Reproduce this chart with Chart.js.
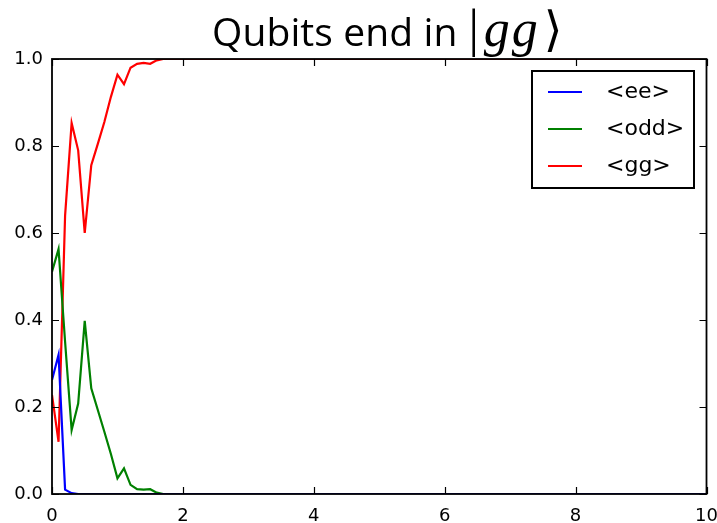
<!DOCTYPE html>
<html>
<head>
<meta charset="utf-8">
<script src="https://cdn.jsdelivr.net/npm/chart.js@4/dist/chart.umd.min.js"></script>
<style>
  html, body { margin: 0; padding: 0; background: #fff; }
  #wrap { width: 717px; height: 523px; }
</style>
</head>
<body>
<div id="wrap"><canvas id="c" width="717" height="523"></canvas></div>
<script>
// Time axis samples (after 1.8 every population stays put until t = 10)
const times = [0, 0.1, 0.2, 0.3, 0.4, 0.5, 0.6, 0.7, 0.8, 0.9, 1.0, 1.1, 1.2, 1.3, 1.4, 1.5, 1.6, 1.7, 1.8, 10];

// Populations of the two-qubit states
const eeValues  = [0.262, 0.320, 0.010, 0.002, 0, 0, 0, 0, 0, 0, 0, 0, 0, 0, 0, 0, 0, 0, 0, 0];
const oddValues = [0.511, 0.563, 0.350, 0.147, 0.208, 0.398, 0.243, 0.193, 0.143, 0.092, 0.036, 0.059, 0.021, 0.011, 0.010, 0.011, 0.003, 0, 0, 0];
const ggValues  = [0.228, 0.120, 0.640, 0.853, 0.790, 0.600, 0.756, 0.805, 0.855, 0.913, 0.964, 0.942, 0.980, 0.989, 0.991, 0.989, 0.997, 1.0, 1.0, 1.0];

const seriesLabels = ['<ee>', '<odd>', '<gg>'];
const seriesColors = ['#0000ff', '#008000', '#ff0000'];

// Axis ticks
const xTicks = [0, 2, 4, 6, 8, 10];
const yTicks = [0.0, 0.2, 0.4, 0.6, 0.8, 1.0];

const toPoints = vals => vals.map((v, i) => ({ x: times[i], y: v }));

// Frame around the plot plus inward-pointing tick marks on all four sides
const frameTicks = {
  id: 'frameTicks',
  afterDatasetsDraw(chart) {
    const { ctx, chartArea: a, scales: { x, y } } = chart;
    const len = 7;
    ctx.save();
    ctx.strokeStyle = '#000';
    ctx.lineWidth = 1.2;
    ctx.beginPath();
    xTicks.forEach(v => {
      const px = Math.round(x.getPixelForValue(v)) + 0.5;
      ctx.moveTo(px, a.bottom); ctx.lineTo(px, a.bottom - len);
      ctx.moveTo(px, a.top); ctx.lineTo(px, a.top + len);
    });
    yTicks.forEach(v => {
      const py = Math.round(y.getPixelForValue(v)) + 0.5;
      ctx.moveTo(a.left, py); ctx.lineTo(a.left + len, py);
      ctx.moveTo(a.right, py); ctx.lineTo(a.right - len, py);
    });
    ctx.stroke();
    ctx.lineWidth = 1.8;
    ctx.strokeRect(a.left, a.top, a.right - a.left, a.bottom - a.top);
    ctx.restore();
  }
};

// Boxed legend in the upper right corner of the plot
const boxLegend = {
  id: 'boxLegend',
  afterDraw(chart) {
    const { ctx } = chart;
    const bx = 532, by = 71, bw = 162, bh = 117;
    ctx.save();
    ctx.fillStyle = '#fff';
    ctx.fillRect(bx, by, bw, bh);
    ctx.strokeStyle = '#000';
    ctx.lineWidth = 2;
    ctx.strokeRect(bx, by, bw, bh);
    ctx.font = '22px "DejaVu Sans"';
    ctx.textBaseline = 'middle';
    ctx.textAlign = 'left';
    chart.data.datasets.forEach((ds, i) => {
      const ry = 92 + i * 37;
      ctx.strokeStyle = ds.borderColor;
      ctx.lineWidth = 1.8;
      ctx.beginPath();
      ctx.moveTo(548, ry); ctx.lineTo(582, ry);
      ctx.stroke();
      ctx.fillStyle = '#000';
      ctx.fillText(ds.label, 606, ry);
    });
    ctx.restore();
  }
};

// Title with the ket written in serif math style
const ketTitle = {
  id: 'ketTitle',
  afterDraw(chart) {
    const { ctx } = chart;
    const base = 46;
    const parts = [
      { t: 'Qubits end in', f: '39px "Open Sans"', ls: '0.1px', gap: 11 },
      { t: '|', f: '52px "Liberation Serif"', ls: '0px', gap: 5 },
      { t: 'gg', f: 'italic 52px "Liberation Serif"', ls: '2px', gap: 4 },
      { t: '\u27E9', f: '48px "DejaVu Serif", "DejaVu Sans"', ls: '0px', gap: 0 }
    ];
    ctx.save();
    ctx.fillStyle = '#000';
    ctx.textBaseline = 'alphabetic';
    ctx.textAlign = 'left';
    let cx = 212;
    parts.forEach(p => {
      ctx.font = p.f; ctx.letterSpacing = p.ls;
      ctx.fillText(p.t, cx, base);
      cx += ctx.measureText(p.t).width + p.gap;
    });
    ctx.restore();
  }
};

new Chart(document.getElementById('c'), {
  type: 'line',
  data: {
    datasets: [eeValues, oddValues, ggValues].map((vals, i) => ({
      label: seriesLabels[i],
      data: toPoints(vals),
      borderColor: seriesColors[i],
      backgroundColor: seriesColors[i],
      borderWidth: 2.2,
      pointRadius: 0,
      tension: 0,
      fill: false
    }))
  },
  options: {
    responsive: false,
    animation: false,
    events: [],
    layout: { padding: { top: 59, right: 10.5, left: 0, bottom: 0 } },
    plugins: { legend: { display: false }, title: { display: false }, tooltip: { enabled: false } },
    scales: {
      x: {
        type: 'linear', min: 0, max: 10,
        afterBuildTicks: s => { s.ticks = xTicks.map(v => ({ value: v })); },
        afterFit: s => { s.height = 29; s.paddingLeft = 0; s.paddingRight = 0; },
        grid: { display: false, drawTicks: false },
        border: { display: false },
        ticks: { color: '#000', font: { family: 'DejaVu Sans', size: 18 }, padding: 12, maxRotation: 0,
                 callback: v => String(v) }
      },
      y: {
        type: 'linear', min: 0, max: 1,
        afterBuildTicks: s => { s.ticks = yTicks.map(v => ({ value: v })); },
        afterFit: s => { s.width = 52; s.paddingTop = 0; s.paddingBottom = 0; },
        grid: { display: false, drawTicks: false },
        border: { display: false },
        ticks: { color: '#000', font: { family: 'DejaVu Sans', size: 18 }, padding: 9,
                 callback: v => Number(v).toFixed(1) }
      }
    }
  },
  plugins: [frameTicks, boxLegend, ketTitle]
});
</script>
</body>
</html>
